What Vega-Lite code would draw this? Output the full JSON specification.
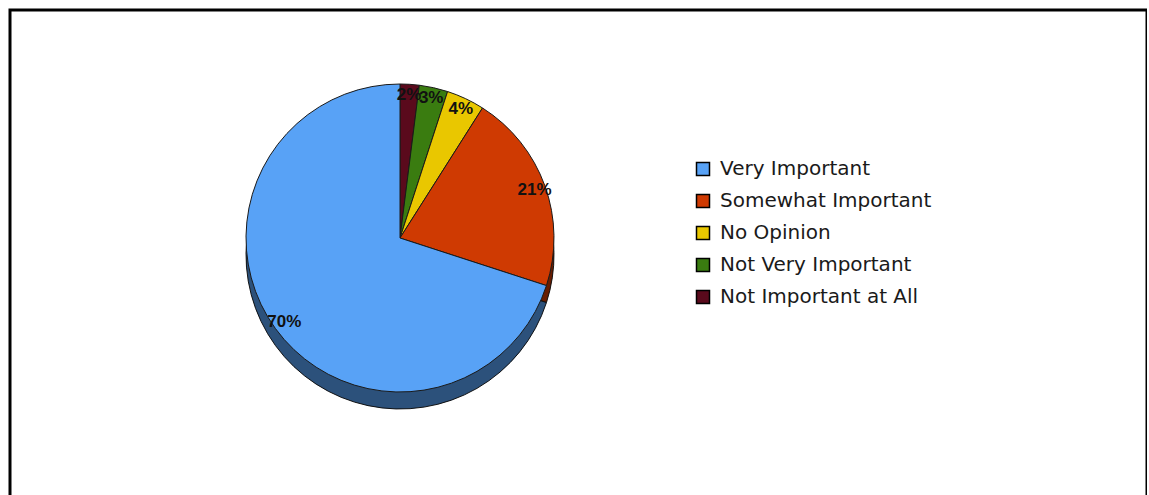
{
  "$schema": "https://vega.github.io/schema/vega-lite/v6.json",
  "width": 1137,
  "height": 520,
  "padding": {"left": 10, "top": 10, "right": 0, "bottom": 0},
  "background": "white",
  "config": {
    "view": {"stroke": "#000000", "strokeWidth": 3},
    "font": "Liberation Sans"
  },
  "data": {
    "values": [
      {"response": "Not Important at All", "pct": 2, "rank": 1, "label": "2%"},
      {"response": "Not Very Important", "pct": 3, "rank": 2, "label": "3%"},
      {"response": "No Opinion", "pct": 4, "rank": 3, "label": "4%"},
      {"response": "Somewhat Important", "pct": 21, "rank": 4, "label": "21%"},
      {"response": "Very Important", "pct": 70, "rank": 5, "label": "70%"}
    ]
  },
  "encoding": {
    "theta": {"field": "pct", "type": "quantitative", "stack": true},
    "order": {"field": "rank", "type": "quantitative"}
  },
  "layer": [
    {
      "mark": {"type": "arc", "radius": 154, "stroke": "#1a1a1a", "strokeWidth": 1},
      "encoding": {
        "x": {"value": 390},
        "y": {"value": 245},
        "color": {"field": "response", "type": "nominal",
          "scale": {"domain": ["Very Important", "Somewhat Important", "No Opinion", "Not Very Important", "Not Important at All"],
                    "range": ["#58a2f6", "#cf3a02", "#e9c700", "#3a7c10", "#5a0a1c"]},
          "legend": {
            "title": null,
            "orient": "none",
            "legendX": 683,
            "legendY": 149,
            "padding": 0,
            "symbolType": "square",
            "symbolSize": 169,
            "symbolStrokeColor": "#000000",
            "symbolStrokeWidth": 1.5,
            "symbolOpacity": 1,
            "labelFont": "DejaVu Sans",
            "labelFontSize": 20,
            "labelColor": "#1a1a1a",
            "labelOffset": 7,
            "rowPadding": 12,
            "labelLimit": 400
          }
        }
      }
    },
    {
      "mark": {"type": "arc", "radius": 154, "fill": "#000000", "opacity": 0.5},
      "encoding": {"x": {"value": 390}, "y": {"value": 245}}
    },
    {
      "mark": {"type": "arc", "radius": 154, "stroke": "#1a1a1a", "strokeWidth": 1},
      "encoding": {
        "x": {"value": 390},
        "y": {"value": 228},
        "color": {"field": "response", "type": "nominal",
          "scale": {"domain": ["Very Important", "Somewhat Important", "No Opinion", "Not Very Important", "Not Important at All"],
                    "range": ["#58a2f6", "#cf3a02", "#e9c700", "#3a7c10", "#5a0a1c"]},
          "legend": {
            "title": null,
            "orient": "none",
            "legendX": 683,
            "legendY": 149,
            "padding": 0,
            "symbolType": "square",
            "symbolSize": 169,
            "symbolStrokeColor": "#000000",
            "symbolStrokeWidth": 1.5,
            "symbolOpacity": 1,
            "labelFont": "DejaVu Sans",
            "labelFontSize": 20,
            "labelColor": "#1a1a1a",
            "labelOffset": 7,
            "rowPadding": 12,
            "labelLimit": 400
          }
        }
      }
    },
    {
      "mark": {"type": "text", "radius": 143, "fontSize": 17, "fontWeight": "bold", "font": "Liberation Sans", "color": "#111111"},
      "encoding": {
        "x": {"value": 390},
        "y": {"value": 228},
        "text": {"field": "label", "type": "nominal"}
      }
    }
  ]
}
